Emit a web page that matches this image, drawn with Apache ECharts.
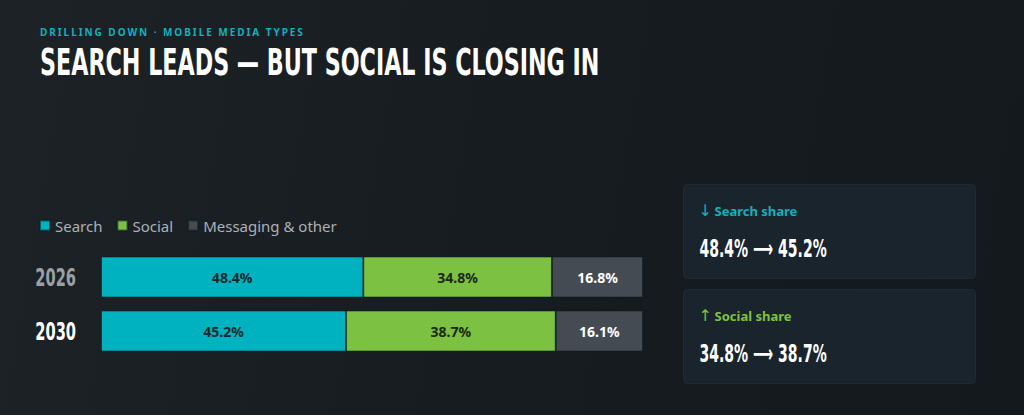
<!DOCTYPE html>
<html>
<head>
<meta charset="utf-8">
<script src="https://cdn.jsdelivr.net/npm/echarts@6/dist/echarts.min.js"></script>
<style>
    html, body { margin: 0; padding: 0; }
    body {
        width: 1024px; height: 415px; overflow: hidden;
        background: linear-gradient(100deg, #1d2226 0%, #161b1f 60%, #14191d 100%);
        position: relative;
    }
    #kicker {
        position: absolute; left: 40px; top: 25px; line-height: 10px; height: 10px;
        font: 700 10px 'Noto Sans', sans-serif; letter-spacing: 1.95px;
        color: #16afbd; white-space: nowrap;
    }
    #title {
        position: absolute; left: 40px; top: 40px; line-height: 34px; height: 34px;
        font: 700 38px 'DejaVu Sans Condensed', sans-serif;
        color: #fff; transform-origin: 0 0; transform: scaleX(0.65); white-space: nowrap;
    }
    #main { position: absolute; left: 0; top: 0; width: 1024px; height: 415px; }
</style>
</head>
<body>
<div id="main"></div>
<div id="kicker">DRILLING DOWN · MOBILE MEDIA TYPES</div>
<div id="title">SEARCH LEADS — BUT SOCIAL IS CLOSING IN</div>
<script>
// 数据
var years = ['2026', '2030'];
var searchShare = [48.4, 45.2];
var socialShare = [34.8, 38.7];
var otherShare = [16.8, 16.1];

var seriesNames = ['Search', 'Social', 'Messaging & other'];
var seriesColors = ['#00b2bf', '#7dc142', '#454b52'];
var labelColors = ['#14282a', '#1c2814', '#ffffff'];
var yearColors = ['#9aa0a6', '#ffffff'];

var narrow = "'DejaVu Sans Condensed', sans-serif";

function makeSeries(i, data) {
    return {
        name: seriesNames[i],
        type: 'bar',
        stack: 'share',
        barWidth: 41,
        data: data,
        itemStyle: { color: seriesColors[i], borderColor: 'rgba(10,30,35,0.55)', borderWidth: 1 },
        label: {
            show: true,
            position: 'inside',
            formatter: function (p) { return p.value.toFixed(1) + '%'; },
            color: labelColors[i],
            fontFamily: "'Noto Sans', sans-serif",
            fontWeight: 'bold',
            fontSize: 14
        },
        emphasis: { disabled: true }
    };
}

// 右侧卡片
function card(id, top, arrow, name, color, from, to) {
    return {
        type: 'group',
        id: id,
        left: 683,
        top: top,
        children: [
            { type: 'rect', shape: { x: 0, y: 0, width: 292, height: 94, r: 4 },
              style: { fill: '#1a242c', stroke: '#1f2b34', lineWidth: 1 } },
            { type: 'text', x: 15, y: 26,
              style: { text: arrow, fill: color, font: '16px "DejaVu Sans", sans-serif', verticalAlign: 'middle' } },
            { type: 'text', x: 31, y: 26,
              style: { text: name, fill: color, font: 'bold 13px "Noto Sans", sans-serif', verticalAlign: 'middle' } },
            { type: 'text', x: 16, y: 64, scaleX: 0.65,
              style: { text: from.toFixed(1) + '% ⟶ ' + to.toFixed(1) + '%', fill: '#ffffff',
                       font: 'bold 24px ' + narrow, verticalAlign: 'middle' } }
        ]
    };
}

var myChart = echarts.init(document.getElementById('main'), null, { renderer: 'svg' });

myChart.setOption({
    animation: false,
    backgroundColor: 'transparent',
    legend: {
        left: 34,
        top: 213,
        itemWidth: 10,
        itemHeight: 10,
        itemGap: 14,
        icon: 'rect',
        data: seriesNames,
        textStyle: { color: '#aab1b8', fontSize: 15, fontFamily: "'Noto Sans', sans-serif" }
    },
    grid: { left: 101, right: 381, top: 250, height: 108 },
    xAxis: {
        type: 'value',
        min: 0,
        max: 100,
        show: false
    },
    yAxis: {
        type: 'category',
        inverse: true,
        data: years,
        axisLine: { show: false },
        axisTick: { show: false },
        axisLabel: { show: false }
    },
    graphic: [
        card('card0', 184, '↓', 'Search share', '#16afbd', searchShare[0], searchShare[1]),
        card('card1', 289, '↑', 'Social share', '#7dc142', socialShare[0], socialShare[1])
    ],
    series: [
        makeSeries(0, searchShare),
        makeSeries(1, socialShare),
        makeSeries(2, otherShare)
    ]
});

// 年份标签：用坐标轴换算位置，横向压缩成窄体
var yearLabels = years.map(function (y, i) {
    var py = myChart.convertToPixel({ yAxisIndex: 0 }, y);
    return {
        type: 'text',
        id: 'year' + i,
        x: 76, y: py, scaleX: 0.65,
        style: { text: y, fill: yearColors[i], font: 'bold 25px ' + narrow,
                 align: 'right', verticalAlign: 'middle' }
    };
});
myChart.setOption({ graphic: yearLabels });
</script>
</body>
</html>
